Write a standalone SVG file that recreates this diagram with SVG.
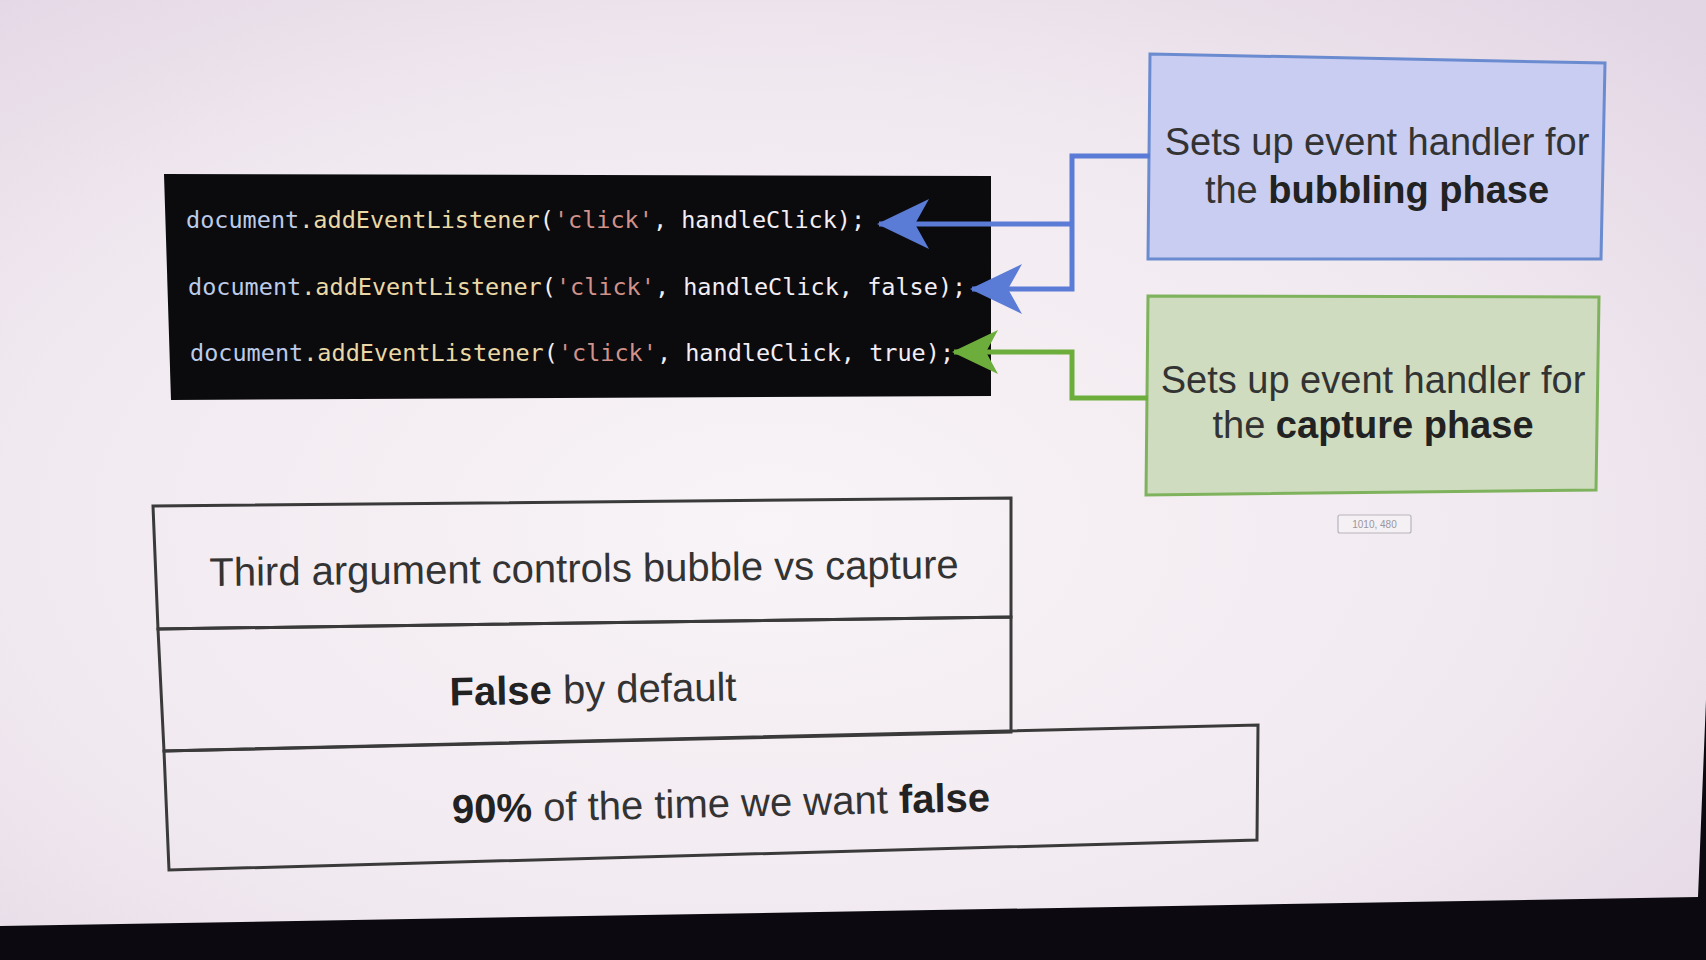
<svg xmlns="http://www.w3.org/2000/svg" width="1706" height="960" viewBox="0 0 1706 960">
  <defs>
    <radialGradient id="bg" cx="0.45" cy="0.55" r="0.75">
      <stop offset="0" stop-color="#f8f4f7"/>
      <stop offset="0.6" stop-color="#f1e9f0"/>
      <stop offset="1" stop-color="#e2d6e4"/>
    </radialGradient>
    <marker id="headBlue" markerUnits="userSpaceOnUse" markerWidth="52" markerHeight="50" viewBox="0 0 52 50" refX="50" refY="25" orient="auto">
      <path d="M0,0 L52,25 L0,50 L14,25 Z" fill="#5a7bd6"/>
    </marker>
    <marker id="headGreen" markerUnits="userSpaceOnUse" markerWidth="46" markerHeight="44" viewBox="0 0 46 44" refX="44" refY="22" orient="auto">
      <path d="M0,0 L46,22 L0,44 L12,22 Z" fill="#6dad3c"/>
    </marker>
    <style>
      .code { font-family: "DejaVu Sans Mono", "Liberation Mono", monospace; font-size: 23.5px; fill: #f2eef6; }
      .kw { fill: #bccbe8; }
      .fn { fill: #ead9a6; }
      .str { fill: #d0928a; }
      .label { font-family: "Liberation Sans", Arial, sans-serif; fill: #333333; text-anchor: middle; }
      .b { font-weight: bold; fill: #222222; }
      .box { fill: none; stroke: #3a3a3a; stroke-width: 3; }
      .wire { fill: none; stroke-width: 5; stroke-linejoin: miter; }
    </style>
  </defs>

  <!-- screen background -->
  <rect x="0" y="0" width="1706" height="960" fill="url(#bg)"/>

  <!-- code panel -->
  <g id="code">
    <polygon points="164,174 991,176 991,396 171,400" fill="#0b0a0c"/>
    <text class="code" x="186" y="228"><tspan class="kw">document</tspan><tspan class="fn">.addEventListener</tspan>(<tspan class="str">'click'</tspan>, handleClick);</text>
    <text class="code" x="188" y="295"><tspan class="kw">document</tspan><tspan class="fn">.addEventListener</tspan>(<tspan class="str">'click'</tspan>, handleClick, false);</text>
    <text class="code" x="190" y="361"><tspan class="kw">document</tspan><tspan class="fn">.addEventListener</tspan>(<tspan class="str">'click'</tspan>, handleClick, true);</text>
  </g>

  <!-- bubbling note -->
  <g id="bubbling">
    <polygon points="1150,54 1605,63 1601,259 1148,259" fill="#c9cdf1" stroke="#6a8bd0" stroke-width="3"/>
    <text class="label" x="1377" y="155" font-size="38">Sets up event handler for</text>
    <text class="label" x="1377" y="203" font-size="38">the <tspan class="b">bubbling phase</tspan></text>
  </g>

  <!-- capture note -->
  <g id="capture">
    <polygon points="1148,296 1599,297 1596,490 1146,495" fill="#cfdcc0" stroke="#7fb25c" stroke-width="3"/>
    <text class="label" x="1373" y="393" font-size="38">Sets up event handler for</text>
    <text class="label" x="1373" y="438" font-size="38">the <tspan class="b">capture phase</tspan></text>
  </g>

  <!-- coordinate tooltip -->
  <g id="tooltip">
    <rect x="1338" y="515" width="73" height="18" rx="2" fill="#f4f0f4" stroke="#b8b4bc" stroke-width="1.2"/>
    <text x="1374.5" y="528" font-family="Liberation Sans, Arial, sans-serif" font-size="10" fill="#9a96a0" text-anchor="middle">1010, 480</text>
  </g>

  <!-- stacked notes -->
  <g id="note-third">
    <polygon class="box" points="153,506 1011,498 1011,617 158,629"/>
    <text class="label" x="584" y="582" font-size="40" transform="rotate(-0.6 584 568)">Third argument controls bubble vs capture</text>
  </g>
  <g id="note-default">
    <polygon class="box" points="158,629 1011,617 1011,732 164,751"/>
    <text class="label" x="593" y="703" font-size="40" transform="rotate(-1 593 689)"><tspan class="b">False</tspan> by default</text>
  </g>
  <g id="note-ninety">
    <polygon class="box" points="164,751 1258,725 1257,840 169,870"/>
    <text class="label" x="721" y="817" font-size="40" transform="rotate(-1.3 721 803)"><tspan class="b">90%</tspan> of the time we want <tspan class="b">false</tspan></text>
  </g>

  <!-- connectors -->
  <g id="connectors">
    <path class="wire" stroke="#5a7bd6" d="M1150,156 H1072 V289 H972" marker-end="url(#headBlue)"/>
    <path class="wire" stroke="#5a7bd6" d="M1072,224 H879" marker-end="url(#headBlue)"/>
    <path class="wire" stroke="#6dad3c" d="M1148,398 H1072 V352 H954" marker-end="url(#headGreen)"/>
  </g>

  <!-- monitor bezel -->
  <polygon points="0,926 1698,897 1706,700 1706,960 0,960" fill="#0c0a10"/>
</svg>
